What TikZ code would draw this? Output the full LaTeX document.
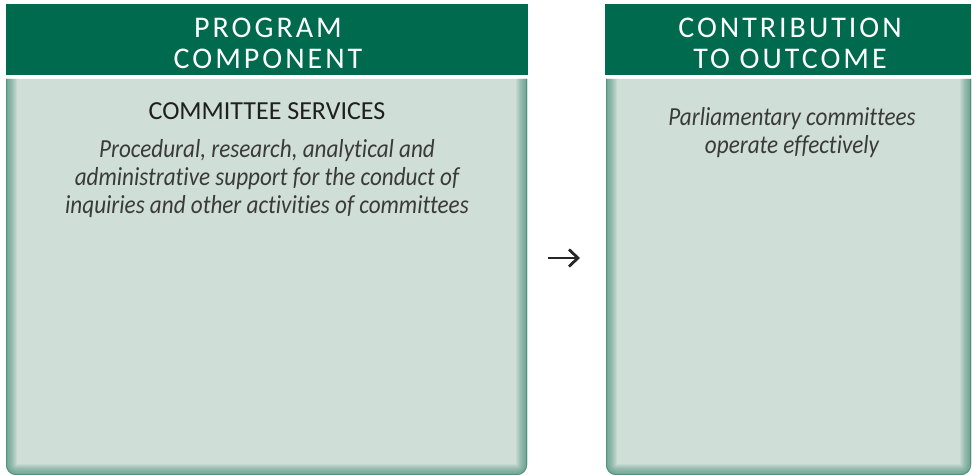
\documentclass[tikz,border=0pt]{standalone}
\usepackage{fontspec}
\setmainfont{Carlito}[Ligatures={NoCommon}]
\usetikzlibrary{positioning,arrows.meta}
\definecolor{headgreen}{HTML}{006A4E}
\definecolor{bodygreen}{HTML}{CFDED7}
\definecolor{edgegreen}{HTML}{3E8A72}
\definecolor{textgray}{HTML}{3A3A3A}

\begin{document}
\begin{tikzpicture}[
  x=0.5pt,y=-0.5pt,
  head/.style={fill=headgreen},
  headtext/.style={text=white,align=center,inner sep=0pt,
    font=\fontsize{15}{15.5}\selectfont\addfontfeatures{LetterSpace=10}},
  title/.style={text=black!88,inner sep=0pt,font=\fontsize{13}{14}\selectfont},
  desc/.style={text=textgray,align=center,inner sep=0pt,
    font=\fontsize{13}{14}\selectfont\itshape\addfontfeatures{FakeStretch=0.89}}]

  \useasboundingbox (0,0) rectangle (972,475);

  % headers
  \fill[head] (6,4) rectangle (528,75);
  \fill[head] (605,4) rectangle (971,75);
  \node[headtext] (progcomp) at (268,43.5) {PROGRAM\\COMPONENT};
  \node[headtext] (contrib) at (790,43.5) {CONTRIBUTION\\TO OUTCOME};

  % bodies with shaded edges
  \foreach \l/\r in {6/527, 606/971} {
    \fill[bodygreen,rounded corners=5pt] (\l,79) -- (\l,475) -- (\r,475) -- (\r,79);
    \begin{scope}
      \clip[rounded corners=5pt] (\l,79) -- (\l,475) -- (\r,475) -- (\r,79);
      \foreach \i in {1,...,12}
        \draw[edgegreen,opacity=0.08,line width=0.9*\i pt,rounded corners=5pt]
          (\l,79) -- (\l,475) -- (\r,475) -- (\r,79);
      \draw[edgegreen,opacity=0.7,line width=0.8pt,rounded corners=5pt]
          (\l,79) -- (\l,475) -- (\r,475) -- (\r,79);
    \end{scope}
  }

  % texts
  \node[title,anchor=base] (service) at (267,120) {COMMITTEE SERVICES};
  \node[desc,anchor=north] (servdesc) at (267,139)
    {Procedural, research, analytical and\\administrative support for the conduct of\\inquiries and other activities of committees};
  \node[desc,anchor=north] (outcome) at (792,107)
    {Parliamentary committees\\operate effectively};

  % arrow between panels
  \coordinate (arrowtail) at (548,258);
  \coordinate (arrowtip) at (580,258);
  \draw[black!85,line width=1.4pt,-{Straight Barb[length=4.5pt,width=8.5pt]}] (arrowtail) -- (arrowtip);
\end{tikzpicture}
\end{document}
